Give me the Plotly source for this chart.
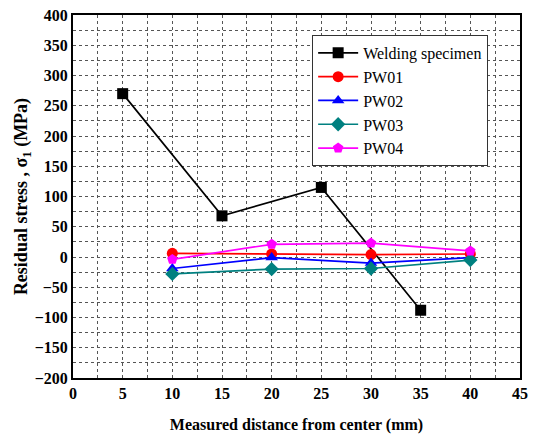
import plotly.graph_objects as go

x_weld = [5, 15, 25, 35]
y_weld = [270, 68, 115, -88]
x_pw = [10, 20, 30, 40]
y_pw01 = [6, 5, 4, 5]
y_pw02 = [-19, -1, -10, -1]
y_pw03 = [-28, -20, -19, -5]
y_pw04 = [-4, 21, 23, 10]

series = [
    ("Welding specimen", x_weld, y_weld, "black", "square"),
    ("PW01", x_pw, y_pw01, "#ff0000", "circle"),
    ("PW02", x_pw, y_pw02, "#0000ff", "triangle-up"),
    ("PW03", x_pw, y_pw03, "#008080", "diamond"),
    ("PW04", x_pw, y_pw04, "#ff00ff", "pentagon"),
]

fig = go.Figure()
for name, xs, ys, col, sym in series:
    fig.add_trace(go.Scatter(x=xs, y=ys, name=name, mode="lines+markers",
                             line=dict(color=col, width=1.7),
                             marker=dict(symbol=sym, size=11, color=col)))

font = "Liberation Serif"
grid = dict(showgrid=True, gridcolor="#555", griddash="dot", gridwidth=1)
fig.update_layout(
    width=536, height=434,
    margin=dict(l=73, r=16, t=15, b=56),
    plot_bgcolor="white", paper_bgcolor="white",
    font=dict(family=font, color="black", size=16),
    legend=dict(x=0.535, y=0.945, xanchor="left", yanchor="top",
                bordercolor="#333", borderwidth=1, bgcolor="white",
                font=dict(family=font, size=16), tracegroupgap=0,
                itemwidth=40),
    showlegend=True,
)
fig.update_xaxes(range=[0, 45], dtick=5, tick0=0, **grid, automargin=False,
                 minor=dict(dtick=2.5, showgrid=True, gridcolor="#555", griddash="dot"),
                 showline=True, linecolor="black", linewidth=2, mirror=True,
                 ticks="", zeroline=False,
                 tickfont=dict(family=font, size=16, weight="bold"),
                 title=dict(text="Measured distance from center (mm)",
                            font=dict(family=font, size=16, weight="bold"), standoff=22))
fig.update_yaxes(range=[-200, 400], dtick=50, tick0=0, **grid, automargin=False,
                 minor=dict(dtick=25, showgrid=True, gridcolor="#555", griddash="dot"),
                 showline=True, linecolor="black", linewidth=2, mirror=True,
                 ticks="", zeroline=False,
                 tickfont=dict(family=font, size=16, weight="bold"),
                 title=dict(text="Residual stress , σ<sub>1</sub> (MPa)",
                            font=dict(family=font, size=18, weight="bold"), standoff=2))

fig.write_html("out.html")
